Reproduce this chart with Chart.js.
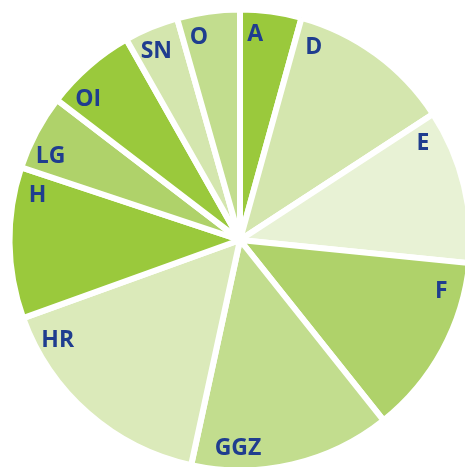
<!DOCTYPE html>
<html>
<head>
<meta charset="utf-8">
<script src="https://cdn.jsdelivr.net/npm/chart.js@4"></script>
<style>
  html, body { margin: 0; padding: 0; background: #fff; overflow: hidden; }
  #wrap { position: absolute; left: 0; top: 0; width: 480px; height: 480px; }
</style>
</head>
<body>
<div id="wrap"><canvas id="pieChart"></canvas></div>
<script>
const sectors = ['A', 'D', 'E', 'F', 'GGZ', 'HR', 'H', 'LG', 'OI', 'SN', 'O'];
const shares = [4.3, 11.5, 10.8, 12.7, 14.1, 16.1, 10.6, 5.3, 6.4, 3.8, 4.4];

const sliceColors = [
  '#9ac93c', '#d4e6ae', '#e8f2d5', '#afd26a', '#c2dd8e', '#dbeaba',
  '#9ac93c', '#afd26a', '#9ac93c', '#d4e6ae', '#c2dd8e'
];
// where along each slice (0 = start, 1 = end, clockwise) the label sits
const labelAt = [0.27, 0.13, 0.13, 0.18, 0.77, 0.85, 0.85, 0.3, 0.24, 0.42, 0.28];

const sliceLabels = {
  id: 'sliceLabels',
  afterDatasetsDraw(chart) {
    const ctx = chart.ctx;
    const arcs = chart.getDatasetMeta(0).data;
    ctx.save();
    ctx.font = 'bold 23px "Open Sans", "Noto Sans", sans-serif';
    ctx.fillStyle = '#1f3d8f';
    ctx.textAlign = 'center';
    ctx.textBaseline = 'middle';
    arcs.forEach((arc, i) => {
      const p = arc.getProps(['x', 'y', 'startAngle', 'endAngle', 'outerRadius'], true);
      const a = p.startAngle + labelAt[i] * (p.endAngle - p.startAngle);
      const r = p.outerRadius * 0.9;
      ctx.fillText(sectors[i], p.x + Math.cos(a) * r, p.y + Math.sin(a) * r + 1);
    });
    ctx.restore();
  }
};

const pieCtx = document.getElementById('pieChart').getContext('2d');
const pieChart = new Chart(pieCtx, {
  type: 'pie',
  data: {
    labels: sectors,
    datasets: [{
      data: shares,
      backgroundColor: sliceColors,
      borderColor: '#ffffff',
      borderWidth: 6,
      radius: 230.5
    }]
  },
  options: {
    responsive: true,
    maintainAspectRatio: false,
    animation: false,
    events: [],
    plugins: {
      legend: { display: false },
      tooltip: { enabled: false }
    }
  },
  plugins: [sliceLabels]
});
</script>
</body>
</html>
